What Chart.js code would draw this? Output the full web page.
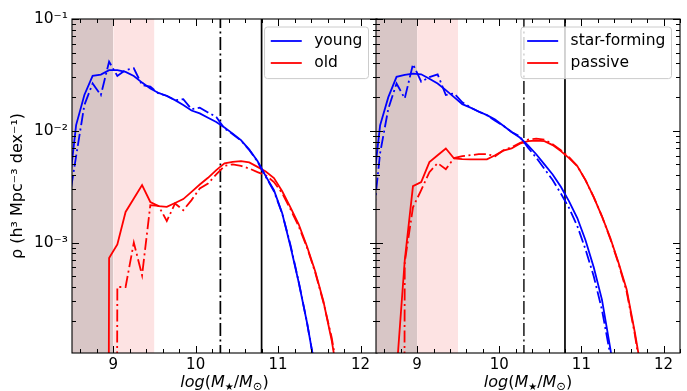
<!DOCTYPE html>
<html>
<head>
<meta charset="utf-8">
<script src="https://cdn.jsdelivr.net/npm/chart.js@4.4.1/dist/chart.umd.min.js"></script>
<style>
  html, body { margin: 0; padding: 0; background: #fff; }
  #wrap { position: relative; width: 687px; height: 391px; }
  #wrap canvas { position: absolute; left: 0; top: 0; }
</style>
</head>
<body>
<div id="wrap">
  <canvas id="leftPanel" width="687" height="391"></canvas>
  <canvas id="rightPanel" width="687" height="391"></canvas>
</div>
<script>
// bin centres, log(M*/Msun)
var massBins = [8.45, 8.55, 8.65, 8.75, 8.85, 8.95, 9.05, 9.15, 9.25, 9.35,
  9.45, 9.55, 9.65, 9.75, 9.85, 9.95, 10.05, 10.15, 10.25, 10.35,
  10.45, 10.55, 10.65, 10.75, 10.85, 10.95, 11.05, 11.15, 11.25, 11.35,
  11.45, 11.55, 11.65, 11.75, 11.85];

// left panel: young / old  (solid and dash-dot versions)
var youngSolid = [2.51e-3, 1.125e-2, 2.09e-2, 3.10e-2, 3.18e-2, 3.49e-2, 3.49e-2, 3.36e-2, 3.09e-2, 2.70e-2,
  2.39e-2, 2.18e-2, 2.05e-2, 1.88e-2, 1.70e-2, 1.52e-2, 1.43e-2, 1.31e-2, 1.20e-2, 1.07e-2,
  9.44e-3, 8.26e-3, 6.80e-3, 5.36e-3, 3.93e-3, 2.94e-3, 1.83e-3, 9.29e-4, 4.42e-4, 1.94e-4,
  7.52e-5, 2.51e-5, null, null, null];
var youngDash = [2.04e-3, 5.93e-3, 1.70e-2, 2.65e-2, 2.09e-2, 4.15e-2, 3.10e-2, 3.49e-2, 3.62e-2, 2.56e-2,
  2.48e-2, 2.16e-2, 2.06e-2, 1.88e-2, 1.92e-2, 1.56e-2, 1.61e-2, 1.46e-2, 1.33e-2, 1.05e-2,
  9.33e-3, 8.17e-3, 6.75e-3, 5.31e-3, 3.89e-3, 2.88e-3, 1.82e-3, 9.55e-4, 4.47e-4, 1.95e-4,
  7.41e-5, 2.51e-5, null, null, null];
var oldSolid = [null, null, null, null, 0, 7.29e-4, 9.62e-4, 1.88e-3, 2.48e-3, 3.27e-3,
  2.31e-3, 2.12e-3, 2.09e-3, 2.26e-3, 2.45e-3, 2.84e-3, 3.31e-3, 3.80e-3, 4.45e-3, 5.11e-3,
  5.28e-3, 5.36e-3, 5.21e-3, 4.76e-3, 4.32e-3, 3.78e-3, 2.88e-3, 2.07e-3, 1.46e-3, 9.29e-4,
  5.55e-4, 2.99e-4, 1.34e-4, 4.79e-5, 1.3e-5];
var oldDash = [null, null, null, null, null, 0, 4.01e-4, 4.01e-4, 1.00e-3, 5.11e-4,
  2.16e-3, 2.13e-3, 1.56e-3, 2.24e-3, 1.95e-3, 2.40e-3, 3.05e-3, 3.38e-3, 4.07e-3, 4.86e-3,
  5.01e-3, 4.86e-3, 4.60e-3, 4.27e-3, 4.01e-3, 3.48e-3, 2.77e-3, 1.99e-3, 1.40e-3, 9.10e-4,
  5.43e-4, 2.92e-4, 1.42e-4, 5.28e-5, 1.3e-5];

// right panel: star-forming / passive
var sfSolid = [2.51e-3, 1.12e-2, 2.00e-2, 3.04e-2, 3.16e-2, 3.24e-2, 3.20e-2, 2.92e-2, 2.65e-2, 2.31e-2,
  2.00e-2, 1.73e-2, 1.61e-2, 1.49e-2, 1.38e-2, 1.26e-2, 1.11e-2, 9.77e-3, 8.71e-3, 7.41e-3,
  6.17e-3, 5.01e-3, 4.07e-3, 3.16e-3, 2.34e-3, 1.66e-3, 1.05e-3, 6.03e-4, 3.09e-4, 1.15e-4,
  3.98e-5, null, null, null, null];
var sfDash = [1.26e-3, 6.31e-3, 1.58e-2, 2.65e-2, 1.95e-2, 3.94e-2, 2.75e-2, 3.02e-2, 3.20e-2, 2.09e-2,
  2.16e-2, 1.80e-2, 1.62e-2, 1.48e-2, 1.38e-2, 1.23e-2, 1.11e-2, 9.77e-3, 8.91e-3, 7.08e-3,
  5.75e-3, 4.57e-3, 3.63e-3, 2.75e-3, 2.04e-3, 1.41e-3, 8.71e-4, 5.01e-4, 2.51e-4, 1.00e-4,
  3.16e-5, null, null, null, null];
var passiveSolid = [null, null, null, 6.92e-5, 6.95e-4, 3.20e-3, 3.48e-3, 5.25e-3, 6.05e-3, 6.95e-3,
  5.66e-3, 5.58e-3, 5.55e-3, 5.55e-3, 5.55e-3, 6.05e-3, 6.65e-3, 6.95e-3, 7.67e-3, 8.09e-3,
  8.17e-3, 8.09e-3, 7.45e-3, 6.58e-3, 5.70e-3, 4.83e-3, 3.62e-3, 2.55e-3, 1.72e-3, 1.11e-3,
  6.68e-4, 3.83e-4, 1.58e-4, 5.87e-5, 1.6e-5];
var passiveDash = [null, null, null, 0, 6.67e-4, 2.07e-3, 2.95e-3, 4.27e-3, 5.14e-3, 4.54e-3,
  5.70e-3, 5.93e-3, 6.05e-3, 6.18e-3, 6.18e-3, 5.93e-3, 6.71e-3, 7.14e-3, 7.76e-3, 8.34e-3,
  8.51e-3, 8.34e-3, 7.60e-3, 6.71e-3, 5.82e-3, 4.83e-3, 3.62e-3, 2.55e-3, 1.72e-3, 1.09e-3,
  6.55e-4, 3.67e-4, 1.51e-4, 5.28e-5, 1.3e-5];

// shaded mass ranges and vertical cuts
var darkBand = [8.5, 9.0];
var lightBand = [9.0, 9.5];
var cutDashDot = 10.3;
var cutSolid = 10.8;

// axes
var xMajor = [9, 10, 11, 12];
var yMajor = [1e-3, 1e-2, 1e-1];
var yTickLabels = ['10⁻³', '10⁻²', '10⁻¹'];
var leftLabels = ['young', 'old'];
var rightLabels = ['star-forming', 'passive'];

var xMinor = [];
for (var t = 8.6; t < 12.21; t += 0.2) {
  var r = Math.round(t * 10) / 10;
  if (xMajor.indexOf(r) < 0) xMinor.push(r);
}
var yMinor = [];
[1e-4, 1e-3, 1e-2].forEach(function (d) {
  for (var k = 2; k <= 9; k++) yMinor.push(k * d);
});

var BLUE = '#0000ff', RED = '#ff0000';
var DASHDOT = [12, 3.5, 2, 3.5];

Chart.defaults.font.family = '"DejaVu Sans"';
Chart.defaults.color = '#000';

function curve(values, color, dashed) {
  return {
    // empty bins (0) drop far below the log axis, like matplotlib does
    data: massBins.map(function (m, i) {
      var v = values[i];
      return { x: m, y: v === 0 ? 1e-30 : v };
    }),
    borderColor: color,
    borderWidth: 1.8,
    borderDash: dashed ? DASHDOT : [],
    pointRadius: 0,
    fill: false,
    clip: 0
  };
}

function vline(x, color, dashed) {
  return {
    data: [{ x: x, y: 1e-6 }, { x: x, y: 1 }],
    borderColor: color,
    borderWidth: 1.7,
    borderDash: dashed ? [13, 3.5, 2, 3.5] : [],
    pointRadius: 0,
    fill: false,
    clip: 0
  };
}

function band(range, color) {
  return {
    data: [{ x: range[0], y: 1 }, { x: range[1], y: 1 }],
    borderWidth: 0,
    borderColor: 'rgba(0,0,0,0)',
    backgroundColor: color,
    pointRadius: 0,
    fill: 'start',
    clip: 0
  };
}

// frame, inward ticks, legend and the x label
var decorations = {
  id: 'decorations',
  afterDatasetsDraw: function (chart, args, opts) {
    var ctx = chart.ctx, a = chart.chartArea;
    var xs = chart.scales.x, ys = chart.scales.y;
    ctx.save();

    ctx.strokeStyle = '#000';
    ctx.lineWidth = 1;
    ctx.beginPath();
    function xTick(v, len) {
      var p = Math.round(xs.getPixelForValue(v)) + 0.5;
      ctx.moveTo(p, a.bottom); ctx.lineTo(p, a.bottom - len);
      ctx.moveTo(p, a.top); ctx.lineTo(p, a.top + len);
    }
    function yTick(v, len) {
      var p = Math.round(ys.getPixelForValue(v)) + 0.5;
      if (p < a.top || p > a.bottom) return;
      ctx.moveTo(a.left, p); ctx.lineTo(a.left + len, p);
      ctx.moveTo(a.right, p); ctx.lineTo(a.right - len, p);
    }
    xMinor.forEach(function (v) { xTick(v, 4); });
    xMajor.forEach(function (v) { xTick(v, 7); });
    yMinor.forEach(function (v) { yTick(v, 4); });
    yMajor.forEach(function (v) { yTick(v, 7); });
    ctx.stroke();

    ctx.lineWidth = 1.1;
    ctx.strokeRect(a.left, a.top, a.right - a.left, a.bottom - a.top);

    // legend, upper right
    var fs = 15.5, pad = 6.2, handle = 31, gap = 12.4;
    ctx.font = fs + 'px "DejaVu Sans"';
    var tw = 0;
    opts.labels.forEach(function (s) { tw = Math.max(tw, ctx.measureText(s).width); });
    var w = pad + handle + gap + tw + pad, h = 51.6;
    var x0 = a.right - 8.5 - w, y0 = a.top + 8, rad = 3;
    ctx.beginPath();
    ctx.moveTo(x0 + rad, y0);
    ctx.arcTo(x0 + w, y0, x0 + w, y0 + h, rad);
    ctx.arcTo(x0 + w, y0 + h, x0, y0 + h, rad);
    ctx.arcTo(x0, y0 + h, x0, y0, rad);
    ctx.arcTo(x0, y0, x0 + w, y0, rad);
    ctx.closePath();
    ctx.fillStyle = 'rgba(255,255,255,0.8)';
    ctx.fill();
    ctx.strokeStyle = '#cccccc';
    ctx.lineWidth = 1;
    ctx.stroke();
    opts.labels.forEach(function (s, i) {
      var cy = y0 + 14 + i * 22;
      ctx.strokeStyle = opts.colors[i];
      ctx.lineWidth = 1.8;
      ctx.beginPath();
      ctx.moveTo(x0 + pad, cy);
      ctx.lineTo(x0 + pad + handle, cy);
      ctx.stroke();
      ctx.fillStyle = '#000';
      ctx.textBaseline = 'middle';
      ctx.textAlign = 'left';
      ctx.fillText(s, x0 + pad + handle + gap, cy);
    });

    // x axis label: log(M_star / M_sun)
    var parts = [
      ['log', 'italic 16px "DejaVu Sans"', 0],
      ['(', '16px "DejaVu Sans"', 0],
      ['M', 'italic 16px "DejaVu Sans"', 0],
      ['★', '10px "DejaVu Sans"', 2.5],
      ['/', '16px "DejaVu Sans"', 0],
      ['M', 'italic 16px "DejaVu Sans"', 0],
      ['⊙', '11.5px "DejaVu Sans"', 2.5],
      [')', '16px "DejaVu Sans"', 0]
    ];
    var total = 0;
    parts.forEach(function (p) { ctx.font = p[1]; p.push(ctx.measureText(p[0]).width); total += p[3]; });
    var px = (a.left + a.right) / 2 - total / 2, base = 387;
    ctx.fillStyle = '#000';
    ctx.textBaseline = 'alphabetic';
    ctx.textAlign = 'left';
    parts.forEach(function (p) {
      ctx.font = p[1];
      ctx.fillText(p[0], px, base + p[2]);
      px += p[3];
    });

    ctx.restore();
  }
};

function panel(canvasId, series, labels, leftSide, cutColor) {
  var datasets = [
    curve(series[0], BLUE, false),
    curve(series[1], BLUE, true),
    curve(series[2], RED, false),
    curve(series[3], RED, true),
    vline(cutDashDot, cutColor, true),
    vline(cutSolid, '#000', false),
    band(lightBand, '#fde3e3'),
    band(darkBand, '#d8c6c6')
  ];
  return new Chart(document.getElementById(canvasId), {
    type: 'line',
    data: { datasets: datasets },
    plugins: [decorations],
    options: {
      responsive: false,
      animation: false,
      devicePixelRatio: 1,
      events: [],
      layout: {
        padding: leftSide ? { left: 0, top: 19, right: 310, bottom: 0 }
                          : { left: 376, top: 19, right: 7, bottom: 0 }
      },
      plugins: {
        legend: { display: false },
        tooltip: { enabled: false },
        filler: { drawTime: 'beforeDatasetsDraw' },
        decorations: { labels: labels, colors: [BLUE, RED] }
      },
      scales: {
        x: {
          type: 'linear',
          min: 8.5,
          max: 12.2,
          grid: { display: false, drawTicks: false },
          border: { display: false },
          afterBuildTicks: function (s) { s.ticks = xMajor.map(function (v) { return { value: v }; }); },
          afterFit: function (s) { s.height = 38; },
          ticks: { font: { size: 15 }, padding: 3, maxRotation: 0, autoSkip: false }
        },
        y: {
          type: 'logarithmic',
          display: leftSide,
          min: 1.03e-4,
          max: 0.1,
          grid: { display: false, drawTicks: false },
          border: { display: false },
          afterBuildTicks: function (s) { s.ticks = yMajor.map(function (v) { return { value: v }; }); },
          afterFit: function (s) { s.width = leftSide ? 72 : 0; },
          ticks: {
            font: { size: 15.5 },
            padding: 4,
            autoSkip: false,
            callback: function (v) { return yTickLabels[yMajor.indexOf(v)]; }
          },
          title: {
            display: true,
            text: 'ρ (h³ Mpc⁻³ dex⁻¹)',
            font: { size: 16 },
            padding: { top: 8, bottom: 0 }
          }
        }
      }
    }
  });
}

panel('leftPanel', [youngSolid, youngDash, oldSolid, oldDash], leftLabels, true, '#000');
panel('rightPanel', [sfSolid, sfDash, passiveSolid, passiveDash], rightLabels, false, '#333');
</script>
</body>
</html>
